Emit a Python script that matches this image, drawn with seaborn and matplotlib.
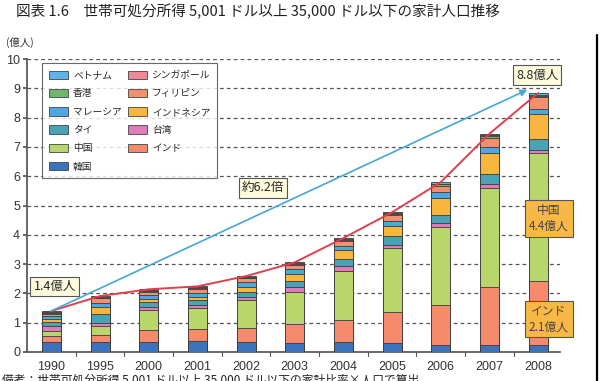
import matplotlib
matplotlib.use("Agg")
import matplotlib.pyplot as plt
import seaborn as sns
import numpy as np
import pandas as pd
from matplotlib.patches import Patch
from matplotlib.lines import Line2D

years = ["1990", "1995", "2000", "2001", "2002", "2003", "2004", "2005", "2006", "2007", "2008"]

# stacked from bottom to top (億人)
korea       = [0.34, 0.34, 0.34, 0.36, 0.34, 0.32, 0.35, 0.30, 0.24, 0.24, 0.24]
india       = [0.22, 0.23, 0.42, 0.43, 0.47, 0.64, 0.75, 1.05, 1.35, 1.98, 2.17]
china       = [0.16, 0.32, 0.66, 0.70, 0.95, 1.10, 1.68, 2.20, 2.67, 3.38, 4.37]
taiwan      = [0.16, 0.11, 0.13, 0.13, 0.13, 0.15, 0.14, 0.11, 0.15, 0.12, 0.12]
thailand    = [0.15, 0.31, 0.15, 0.15, 0.17, 0.20, 0.26, 0.29, 0.28, 0.34, 0.36]
indonesia   = [0.10, 0.23, 0.12, 0.12, 0.17, 0.26, 0.29, 0.34, 0.57, 0.74, 0.86]
malaysia    = [0.10, 0.14, 0.13, 0.14, 0.15, 0.17, 0.16, 0.17, 0.20, 0.20, 0.17]
philippines = [0.07, 0.15, 0.10, 0.12, 0.13, 0.14, 0.15, 0.20, 0.22, 0.32, 0.40]
hongkong    = [0.04, 0.03, 0.03, 0.03, 0.03, 0.03, 0.04, 0.04, 0.04, 0.04, 0.05]
singapore   = [0.03, 0.02, 0.03, 0.03, 0.02, 0.02, 0.03, 0.03, 0.03, 0.03, 0.04]
vietnam     = [0.03, 0.03, 0.03, 0.03, 0.03, 0.03, 0.04, 0.04, 0.05, 0.06, 0.06]

series_names = ["韓国", "インド", "中国", "台湾", "タイ", "インドネシア",
                "マレーシア", "フィリピン", "香港", "シンガポール", "ベトナム"]
series_vals = [korea, india, china, taiwan, thailand, indonesia,
               malaysia, philippines, hongkong, singapore, vietnam]
colors = {
    "韓国": "#3d72bd",
    "インド": "#f58a6c",
    "中国": "#b9d66c",
    "台湾": "#e07cbc",
    "タイ": "#4aa2b6",
    "インドネシア": "#f9b63e",
    "マレーシア": "#4ea6e2",
    "フィリピン": "#f48f6e",
    "香港": "#6cb86c",
    "シンガポール": "#f08898",
    "ベトナム": "#5fb2ea",
}

sns.set_theme(style="white")
plt.rcParams["font.family"] = ["Noto Sans CJK JP", "DejaVu Sans"]

fig = plt.figure(figsize=(6.03, 3.81), dpi=100)
ax = fig.add_axes([27/603, 29/381, 533/603, 293/381])

df = pd.DataFrame({n: v for n, v in zip(series_names, series_vals)}, index=years)
cum = df.cumsum(axis=1)
totals = cum.iloc[:, -1].values

# draw cumulative bars from top layer down so lower layers overlay
for name in reversed(series_names):
    sns.barplot(x=years, y=cum[name].values, color=colors[name], width=0.39,
                edgecolor="#3a3a3a", linewidth=0.6, saturation=1, ax=ax, zorder=3)

ax.set_xlim(-0.5, 10.45)
ax.set_ylim(0, 10)
ax.set_yticks(range(0, 11))
ax.set_yticklabels([str(i) for i in range(0, 11)], fontsize=9, family="Liberation Sans",
                   color="#333333")
ax.set_xticklabels(years, fontsize=9, family="Liberation Sans", color="#333333")
ax.set_xlabel("")
ax.set_ylabel("")
for y in range(1, 11):
    ax.axhline(y, color="#555555", lw=0.9, ls=(0, (3, 2.5)), zorder=1)
for s in ["top", "right"]:
    ax.spines[s].set_visible(False)
ax.spines["left"].set_color("#555555")
ax.spines["bottom"].set_color("#555555")
ax.tick_params(axis="y", left=True, length=3, color="#555555", pad=2)
ax.tick_params(axis="x", bottom=False, pad=0.5)
for b in np.arange(0.5, 10.5, 1.0):
    ax.plot([b, b], [0, -0.12], color="#555555", lw=0.8, clip_on=False, zorder=4)

# red line through totals
xs = np.arange(len(years))
ax.plot(xs, totals, color="#e0404e", lw=1.4, zorder=5)
# blue arrow
ax.annotate("", xy=(9.78, 8.95), xytext=(0, totals[0]),
            arrowprops=dict(arrowstyle="-|>", color="#46a6d6", lw=1.2,
                            mutation_scale=10, shrinkA=0, shrinkB=0), zorder=6)

box_y = dict(boxstyle="square,pad=0.25", fc="#fdfbdc", ec="#555555", lw=0.8)
box_o = dict(boxstyle="square,pad=0.35", fc="#f9b846", ec="#555555", lw=0.8)
ax.text(0.07, 2.23, "1.4億人", fontsize=9, ha="center", va="center", bbox=box_y, zorder=7)
ax.text(9.98, 9.45, "8.8億人", fontsize=9, ha="center", va="center", bbox=box_y, zorder=7)
ax.text(4.35, 5.6, "約6.2倍", fontsize=9, ha="center", va="center", bbox=box_y, zorder=7)
ax.text(10.22, 4.55, "中国\n4.4億人", fontsize=8.5, ha="center", va="center",
        bbox=box_o, zorder=7, linespacing=1.25, color="#444444")
ax.text(10.22, 1.13, "インド\n2.1億人", fontsize=8.5, ha="center", va="center",
        bbox=box_o, zorder=7, linespacing=1.25, color="#444444")

# legend: column 1 then column 2
col1 = ["ベトナム", "香港", "マレーシア", "タイ", "中国", "韓国"]
col2 = ["シンガポール", "フィリピン", "インドネシア", "台湾", "インド"]
handles = [Patch(facecolor=colors[n], edgecolor="#444444", lw=0.6, label=n) for n in col1 + col2]
leg = ax.legend(handles=handles, ncol=2, loc="upper left", bbox_to_anchor=(0.028, 0.985),
                borderaxespad=0, fontsize=7, frameon=True, fancybox=False,
                edgecolor="#444444", handlelength=2.0, handleheight=0.95,
                labelspacing=0.85, columnspacing=0.6, borderpad=0.7, handletextpad=0.5)
leg.get_frame().set_linewidth(0.8)
leg.set_zorder(8)

fig.text(16/603, 1 - 12/381, "図表 1.6　世帯可処分所得 5,001 ドル以上 35,000 ドル以下の家計人口推移",
         fontsize=10.5, ha="left", va="center", color="#222222")
fig.text(6/603, 1 - 42/381, "(億人)", fontsize=7.5, ha="left", va="center", color="#333333")
fig.text(2/603, 7/381, "備考：世帯可処分所得 5,001 ドル以上 35,000 ドル以下の家計比率×人口で算出",
         fontsize=8.5, ha="left", va="top", color="#222222")
fig.add_artist(Line2D([597/603, 597/603], [0, 1 - 35/381], color="black", lw=1.6))

fig.savefig("out.png", dpi=100)
